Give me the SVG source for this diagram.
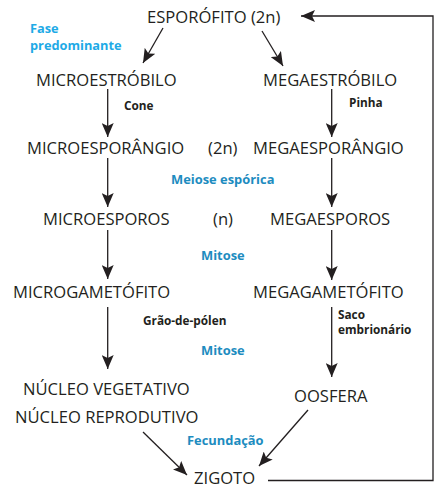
<svg xmlns="http://www.w3.org/2000/svg" width="435" height="488" viewBox="0 0 435 488">
<style>
.n{font-family:"Open Sans","Noto Sans",sans-serif;font-size:16.6px;fill:#231f20}
.s{font-family:"Open Sans","Noto Sans",sans-serif;font-size:11.8px;font-weight:bold;fill:#231f20}
.b1{font-family:"Open Sans","Noto Sans",sans-serif;font-size:12.8px;font-weight:bold;fill:#1eaae6}
.b2{font-family:"Open Sans","Noto Sans",sans-serif;font-size:12.9px;font-weight:bold;fill:#1d8cc0}
.c{stroke:#231f20;stroke-width:1.3;fill:none}
</style>
<defs>
<marker id="ah" viewBox="0 0 14 12" refX="14" refY="6" markerWidth="14" markerHeight="12" markerUnits="userSpaceOnUse" orient="auto">
<path d="M0,0 L14,6 L0,12 L3,6 Z" fill="#231f20"/>
</marker>
</defs>
<rect width="435" height="488" fill="#ffffff"/>
<g id="connectors">
<polyline class="c" points="268,480.5 433,480.5 433,16 301,16" marker-end="url(#ah)"/>
<line class="c" x1="163" y1="28" x2="143" y2="63" marker-end="url(#ah)"/>
<line class="c" x1="262" y1="31" x2="283" y2="66" marker-end="url(#ah)"/>
<line class="c" x1="107.7" y1="89" x2="107.7" y2="137" marker-end="url(#ah)"/>
<line class="c" x1="331.7" y1="89" x2="331.7" y2="137" marker-end="url(#ah)"/>
<line class="c" x1="107.7" y1="158" x2="107.7" y2="207" marker-end="url(#ah)"/>
<line class="c" x1="331.7" y1="158" x2="331.7" y2="207" marker-end="url(#ah)"/>
<line class="c" x1="107.7" y1="230" x2="107.7" y2="279" marker-end="url(#ah)"/>
<line class="c" x1="331.7" y1="230" x2="331.7" y2="280" marker-end="url(#ah)"/>
<line class="c" x1="107.7" y1="307" x2="107.7" y2="369" marker-end="url(#ah)"/>
<line class="c" x1="331.7" y1="307" x2="331.7" y2="377" marker-end="url(#ah)"/>
<line class="c" x1="143" y1="432" x2="187" y2="475" marker-end="url(#ah)"/>
<line class="c" x1="308" y1="410" x2="259" y2="466" marker-end="url(#ah)"/>
</g>
<g id="esporofito"><text class="n" x="147" y="22.5">ESPORÓFITO (2n)</text></g>
<g id="fase"><text class="b1" x="30" y="32.5">Fase</text><text class="b1" x="30" y="49.5">predominante</text></g>
<g id="microestrobilo"><text class="n" x="36" y="86">MICROESTRÓBILO</text></g>
<g id="megaestrobilo"><text class="n" x="263" y="86">MEGAESTRÓBILO</text></g>
<g id="cone"><text class="s" x="124" y="110">Cone</text></g>
<g id="pinha"><text class="s" x="349" y="107">Pinha</text></g>
<g id="microesporangio"><text class="n" x="27" y="154">MICROESPORÂNGIO</text></g>
<g id="ploidia2n"><text class="n" x="208" y="154">(2n)</text></g>
<g id="megaesporangio"><text class="n" x="253" y="154">MEGAESPORÂNGIO</text></g>
<g id="meiose"><text class="b2" x="171" y="184">Meiose espórica</text></g>
<g id="microesporos"><text class="n" x="43" y="225">MICROESPOROS</text></g>
<g id="ploidian"><text class="n" x="213" y="225">(n)</text></g>
<g id="megaesporos"><text class="n" x="270" y="225">MEGAESPOROS</text></g>
<g id="mitose1"><text class="b2" x="201" y="260">Mitose</text></g>
<g id="microgametofito"><text class="n" x="13" y="298">MICROGAMETÓFITO</text></g>
<g id="megagametofito"><text class="n" x="253" y="298">MEGAGAMETÓFITO</text></g>
<g id="graodepolen"><text class="s" x="143" y="325">Grão-de-pólen</text></g>
<g id="sacoembrionario"><text class="s" x="338" y="319">Saco</text><text class="s" x="338" y="334">embrionário</text></g>
<g id="mitose2"><text class="b2" x="201" y="355">Mitose</text></g>
<g id="nucleos"><text class="n" x="23" y="395">NÚCLEO VEGETATIVO</text><text class="n" x="15" y="423">NÚCLEO REPRODUTIVO</text></g>
<g id="oosfera"><text class="n" x="294" y="402">OOSFERA</text></g>
<g id="fecundacao"><text class="b2" x="187" y="445">Fecundação</text></g>
<g id="zigoto"><text class="n" x="194" y="483.5">ZIGOTO</text></g>
</svg>
